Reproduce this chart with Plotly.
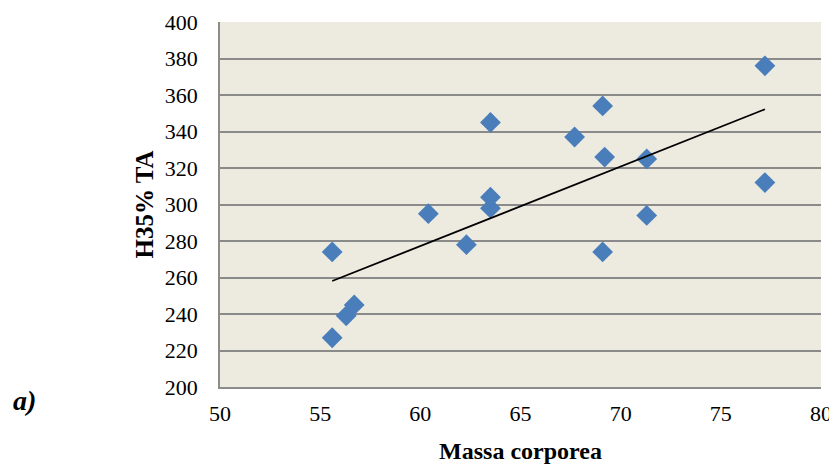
import numpy as np
import plotly.graph_objects as go

# Data
massa = [55.6, 55.6, 56.3, 56.7, 60.4, 62.3, 63.5, 63.5, 63.5, 67.7, 69.1, 69.2, 69.1, 71.3, 71.3, 77.2, 77.2]
h35 = [227, 274, 239, 245, 295, 278, 298, 304, 345, 337, 354, 326, 274, 325, 294, 376, 312]

x_ticks = [50, 55, 60, 65, 70, 75, 80]
y_ticks = [200, 220, 240, 260, 280, 300, 320, 340, 360, 380, 400]

# Linear trend line (least squares)
slope, intercept = np.polyfit(massa, h35, 1)
tx = [min(massa), max(massa)]
ty = [slope * v + intercept for v in tx]

fig = go.Figure()
fig.add_trace(go.Scatter(
    x=massa, y=h35, mode="markers",
    marker=dict(symbol="diamond", size=16, color="#4A7EBB", line=dict(width=0)),
    showlegend=False,
))
fig.add_trace(go.Scatter(
    x=tx, y=ty, mode="lines",
    line=dict(color="black", width=1.8),
    showlegend=False,
))

font_family = "Liberation Serif, Times New Roman, serif"

# the page body has an 8px margin, so the figure is sized/margined to compensate
fig.update_layout(
    width=829, height=456,
    margin=dict(l=212, r=16, t=14, b=77),
    paper_bgcolor="white",
    plot_bgcolor="#EDEAE0",
    font=dict(family=font_family, size=22, color="black"),
    xaxis=dict(
        range=[50, 80], tickvals=x_ticks, ticktext=[str(v) for v in x_ticks],
        showgrid=False, zeroline=False, automargin=False,
        showline=True, linecolor="#8C8C8C", linewidth=1.5,
        ticks="", ticklabelstandoff=6,
        title=dict(text="<b>Massa corporea</b>", font=dict(size=24), standoff=18),
    ),
    yaxis=dict(
        range=[200, 400], tickvals=y_ticks, ticktext=[str(v) for v in y_ticks],
        showgrid=True, gridcolor="#8A8A8A", gridwidth=1.5, zeroline=False, automargin=False,
        showline=True, linecolor="#8C8C8C", linewidth=1.5,
        ticks="", ticklabelstandoff=16,
        title=dict(text="<b>H35% TA</b>", font=dict(size=25), standoff=4),
    ),
    annotations=[dict(
        text="<b><i>a)</i></b>", xref="paper", yref="paper",
        x=-0.326, y=-0.038, xanchor="center", yanchor="middle",
        showarrow=False, font=dict(size=28, family=font_family),
    )],
)

fig.write_html("out.html")
